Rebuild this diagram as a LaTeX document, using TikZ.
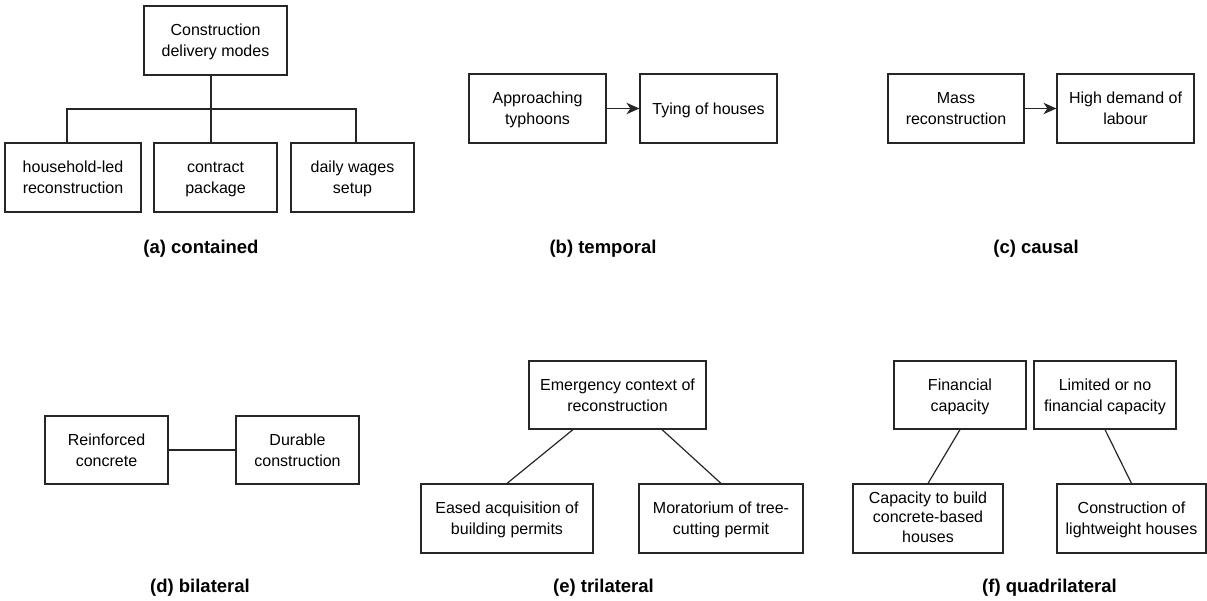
\documentclass[tikz,border=0pt]{standalone}
\usepackage{fontspec}
\setmainfont{Liberation Sans}
\usetikzlibrary{calc,arrows.meta}
\begin{document}
\begin{tikzpicture}[x=1pt,y=-1pt,
  box/.style={draw=black!85, line width=1.2pt, rectangle, inner sep=0pt,
    align=center, font=\fontsize{16}{21}\selectfont, minimum height=69pt,
    text depth=-2pt},
  link/.style={draw=black!85, line width=1.2pt},
  tip/.style={-{Stealth[length=13pt, width=11.5pt, inset=4pt]}},
  caption/.style={anchor=base, font=\bfseries\fontsize{18.5}{22}\selectfont}]
\useasboundingbox (0,0) rectangle (1207,600);

% (a) contained
\node[box, minimum width=143pt] (ta) at (215.5,40.5) {Construction\\delivery modes};
\node[box, minimum width=136pt] (ca) at (73,177.5) {household-led\\reconstruction};
\node[box, minimum width=123pt] (cb) at (215.5,177.5) {contract\\package};
\node[box, minimum width=123pt] (cc) at (352.5,177.5) {daily wages\\setup};
\coordinate (bar) at (211,109);
\coordinate (xl) at (67,0);
\coordinate (xr) at (356,0);
\draw[link] (ta.south -| bar) -- (cb.north -| bar);
\draw[link] (ca.north -| xl) |- (bar) -| (cc.north -| xr);
\node[caption] (capa) at (201,253) {(a) contained};

% (b) temporal
\node[box, minimum width=137pt] (ba) at (537.5,108.5) {Approaching\\typhoons};
\node[box, minimum width=137pt] (bb) at (708.5,108.5) {Tying of houses};
\draw[link, tip] (ba) -- (bb);
\node[caption] (capb) at (603,253) {(b) temporal};

% (c) causal
\node[box, minimum width=136pt] (ka) at (956,108.5) {Mass\\reconstruction};
\node[box, minimum width=137pt] (kb) at (1125.5,108.5) {High demand of\\labour};
\draw[link, tip] (ka) -- (kb);
\node[caption] (capc) at (1036,253) {(c) causal};

% (d) bilateral
\node[box, minimum width=123pt, minimum height=68pt] (da) at (106.5,450) {Reinforced\\concrete};
\node[box, minimum width=123pt, minimum height=68pt] (db) at (297.5,450) {Durable\\construction};
\draw[link] (da) -- (db);
\node[caption] (capd) at (200,592) {(d) bilateral};

% (e) trilateral
\node[box, minimum width=177pt, minimum height=68pt] (et) at (617.5,395) {Emergency context of\\reconstruction};
\node[box, minimum width=172pt] (el) at (507,518.5) {Eased acquisition of\\building permits};
\node[box, minimum width=164pt] (er) at (721,518.5) {Moratorium of tree-\\cutting permit};
\draw[link] ($(et.south west)!0.25!(et.south east)$) -- (el.north);
\draw[link] ($(et.south west)!0.75!(et.south east)$) -- (er.north);
\node[caption] (cape) at (603.5,592) {(e) trilateral};

% (f) quadrilateral
\node[box, minimum width=132pt, minimum height=68pt] (fa) at (960,395) {Financial\\capacity};
\node[box, minimum width=142pt, minimum height=68pt] (fb) at (1105,395) {Limited or no\\financial capacity};
\node[box, minimum width=150pt, font=\fontsize{16}{19.5}\selectfont, text depth=3pt] (fc) at (928,518.5) {Capacity to build\\concrete-based\\houses};
\node[box, minimum width=149pt] (fd) at (1131.5,518.5) {Construction of\\lightweight houses};
\draw[link] (fa.south) -- (fc.north);
\draw[link] (fb.south) -- (fd.north);
\node[caption] (capf) at (1049.5,592) {(f) quadrilateral};
\end{tikzpicture}
\end{document}
